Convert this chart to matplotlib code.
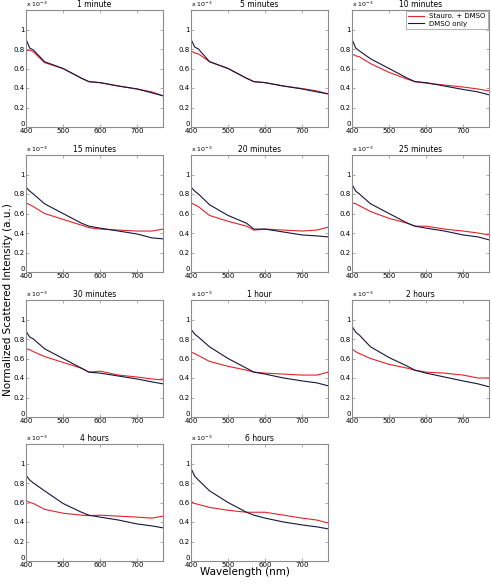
import matplotlib

matplotlib.use("Agg")
import matplotlib.pyplot as plt

wavelength = [400, 410, 420, 450, 500, 550, 570, 600, 650, 700, 740, 770]

titles = [
    "1 minute", "5 minutes", "10 minutes",
    "15 minutes", "20 minutes", "25 minutes",
    "30 minutes", "1 hour", "2 hours",
    "4 hours", "6 hours",
]

# intensity x 1e-3
stauro = [
    [0.78, 0.79, 0.77, 0.66, 0.60, 0.50, 0.465, 0.455, 0.42, 0.39, 0.36, 0.32],
    [0.78, 0.76, 0.75, 0.67, 0.60, 0.50, 0.465, 0.455, 0.42, 0.395, 0.37, 0.34],
    [0.75, 0.73, 0.72, 0.65, 0.56, 0.49, 0.465, 0.45, 0.43, 0.41, 0.39, 0.37],
    [0.71, 0.69, 0.67, 0.60, 0.54, 0.48, 0.455, 0.44, 0.43, 0.42, 0.42, 0.44],
    [0.71, 0.69, 0.67, 0.58, 0.52, 0.47, 0.43, 0.44, 0.43, 0.42, 0.43, 0.46],
    [0.71, 0.70, 0.68, 0.62, 0.55, 0.50, 0.47, 0.47, 0.44, 0.42, 0.40, 0.38],
    [0.70, 0.69, 0.67, 0.62, 0.56, 0.50, 0.46, 0.47, 0.43, 0.41, 0.39, 0.38],
    [0.665, 0.65, 0.63, 0.57, 0.52, 0.48, 0.46, 0.45, 0.44, 0.43, 0.43, 0.46],
    [0.70, 0.67, 0.65, 0.60, 0.54, 0.50, 0.48, 0.46, 0.45, 0.43, 0.40, 0.40],
    [0.62, 0.60, 0.59, 0.53, 0.49, 0.47, 0.465, 0.47, 0.46, 0.45, 0.44, 0.46],
    [0.61, 0.59, 0.58, 0.55, 0.52, 0.50, 0.50, 0.50, 0.47, 0.44, 0.42, 0.39],
]

dmso = [
    [0.90, 0.81, 0.79, 0.67, 0.60, 0.50, 0.465, 0.455, 0.42, 0.39, 0.35, 0.32],
    [0.90, 0.82, 0.80, 0.67, 0.60, 0.50, 0.465, 0.455, 0.42, 0.39, 0.36, 0.34],
    [0.90, 0.81, 0.78, 0.70, 0.60, 0.50, 0.465, 0.455, 0.42, 0.385, 0.36, 0.33],
    [0.87, 0.83, 0.80, 0.70, 0.60, 0.50, 0.47, 0.45, 0.42, 0.39, 0.35, 0.34],
    [0.87, 0.83, 0.80, 0.69, 0.58, 0.50, 0.44, 0.44, 0.41, 0.38, 0.37, 0.36],
    [0.90, 0.83, 0.80, 0.70, 0.60, 0.50, 0.47, 0.45, 0.42, 0.38, 0.36, 0.33],
    [0.88, 0.82, 0.80, 0.70, 0.60, 0.50, 0.46, 0.45, 0.42, 0.39, 0.36, 0.34],
    [0.90, 0.85, 0.82, 0.72, 0.60, 0.50, 0.46, 0.44, 0.40, 0.37, 0.35, 0.32],
    [0.93, 0.87, 0.84, 0.72, 0.61, 0.52, 0.48, 0.45, 0.41, 0.37, 0.34, 0.31],
    [0.88, 0.83, 0.80, 0.72, 0.59, 0.50, 0.47, 0.45, 0.42, 0.38, 0.36, 0.34],
    [0.95, 0.87, 0.83, 0.72, 0.60, 0.50, 0.47, 0.44, 0.40, 0.37, 0.35, 0.33],
]

RED = "#e3232b"
NAVY = "#16163f"
GRAY = "#8c8c8c"

W, H = 491, 587
fig = plt.figure(figsize=(W / 100, H / 100), dpi=100)

col_left = [26, 191, 352]
row_top = [10, 155, 300, 444]
ax_w, ax_h = 137, 117

for i, title in enumerate(titles):
    r, c = divmod(i, 3)
    left = col_left[c] / W
    bottom = 1 - (row_top[r] + ax_h) / H
    ax = fig.add_axes([left, bottom, ax_w / W, ax_h / H])
    ax.plot(wavelength, stauro[i], color=RED, lw=0.8, label="Stauro. + DMSO")
    ax.plot(wavelength, dmso[i], color=NAVY, lw=0.8, label="DMSO only")
    ax.set_xlim(400, 770)
    ax.set_ylim(0, 1.2)
    ax.set_xticks([400, 500, 600, 700])
    ax.set_yticks([0, 0.2, 0.4, 0.6, 0.8, 1])
    ax.set_yticklabels(["0", "0.2", "0.4", "0.6", "0.8", "1"])
    ax.tick_params(direction="in", length=2, width=0.5, labelsize=5,
                   top=True, right=True, pad=1, colors=GRAY, labelcolor="black")
    # MATLAB puts the zero just above the first x label
    ax.get_yticklabels()[0].set_va("bottom")
    for sp in ax.spines.values():
        sp.set_color(GRAY)
        sp.set_linewidth(0.8)
    ax.set_title(title, fontsize=5.5, pad=2.5)
    ax.text(0, 1.01, r"x 10$^{-3}$", transform=ax.transAxes, fontsize=4.5,
            ha="left", va="bottom")
    if i == 2:
        leg = ax.legend(loc="upper right", fontsize=5, handlelength=2.2,
                        borderpad=0.3, labelspacing=0.2, fancybox=False,
                        borderaxespad=0.2)
        leg.get_frame().set_edgecolor(GRAY)
        leg.get_frame().set_linewidth(0.6)

fig.text(245 / W, 1 - 572 / H, "Wavelength (nm)", fontsize=7.5,
         ha="center", va="center")
fig.text(8 / W, 1 - 300 / H, "Normalized Scattered Intensity (a.u.)",
         fontsize=7.5, rotation=90, ha="center", va="center")

fig.savefig("out.png", dpi=100)
